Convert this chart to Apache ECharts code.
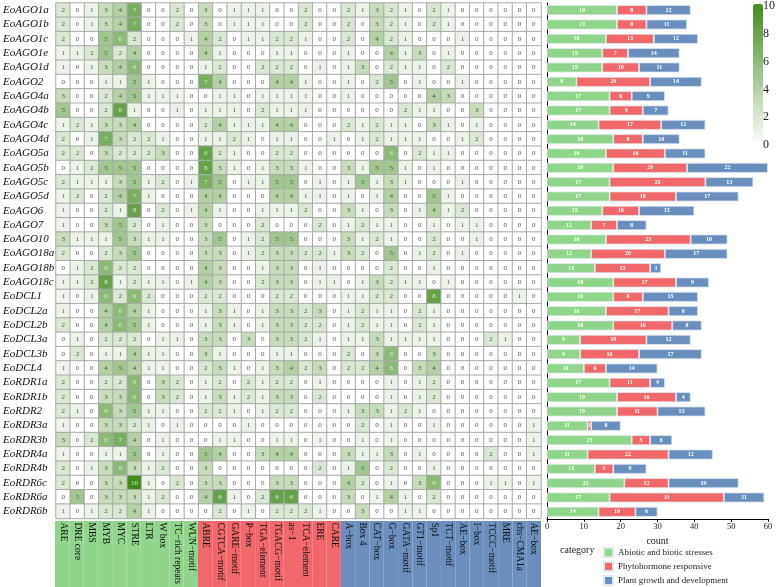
<!DOCTYPE html>
<html><head><meta charset="utf-8">
<script src="https://cdn.jsdelivr.net/npm/echarts@6/dist/echarts.min.js"></script>
<style>html,body{margin:0;padding:0;background:#fff}#c{width:778px;height:587px}</style>
</head><body><div id="c"></div><script>
const genes = ['EoAGO1a','EoAGO1b','EoAGO1c','EoAGO1e','EoAGO1d','EoAGO2','EoAGO4a','EoAGO4b','EoAGO4c','EoAGO4d','EoAGO5a','EoAGO5b','EoAGO5c','EoAGO5d','EoAGO6','EoAGO7','EoAGO10','EoAGO18a','EoAGO18b','EoAGO18c','EoDCL1','EoDCL2a','EoDCL2b','EoDCL3a','EoDCL3b','EoDCL4','EoRDR1a','EoRDR1b','EoRDR2','EoRDR3a','EoRDR3b','EoRDR4a','EoRDR4b','EoRDR6c','EoRDR6a','EoRDR6b'];
const motifs = ['ARE','DRE core','MBS','MYB','MYC','STRE','LTR','W box','TC\u2212rich repeats','WUN\u2212motif',
  'ABRE','CGTCA\u2212motif','GARE\u2212motif','P\u2212box','TGA\u2212element','TGACG\u2212motif','as\u22121','TCA\u2212element','ERE','CARE',
  'A\u2212box','Box 4','CAT\u2212box','G\u2212box','GATA\u2212motif','GT1\u2212motif','Sp1','TCT\u2212motif','AE\u2212box','I\u2212box','TCCC\u2212motif','MRE','chs\u2212CMA1a','AE\u2212box'];
const motifGroup = [0,0,0,0,0,0,0,0,0,0, 1,1,1,1,1,1,1,1,1,1, 2,2,2,2,2,2,2,2,2,2,2,2,2,2];
const categoryNames = ['Abiotic and biotic stresses','Phytohormone responsive','Plant growth and development'];
const categoryColors = ['#8fd68b','#f0686a','#6a8fbf'];
const motifCounts = [
 [2,0,1,3,4,7,0,0,2,0, 3,0,1,1,1,0,0,2,0,0, 2,1,3,2,1,0,2,1,0,0,0,0,0,0],
 [2,0,1,3,4,7,0,0,2,0, 3,0,1,1,1,0,0,2,0,0, 2,0,3,2,1,0,2,1,0,0,0,0,0,0],
 [2,0,0,5,6,2,0,0,0,1, 4,2,0,1,1,2,2,1,0,0, 2,0,4,2,1,0,0,0,1,0,0,0,0,0],
 [1,1,2,5,2,4,0,0,0,0, 4,1,0,0,0,1,1,0,0,0, 1,0,0,4,1,3,0,1,0,0,0,0,0,0],
 [1,0,1,3,4,6,0,0,0,0, 1,2,0,0,2,2,2,0,1,0, 1,3,0,2,1,1,0,2,0,0,0,0,0,0],
 [0,0,0,1,1,5,1,0,0,0, 7,4,0,0,0,4,4,1,0,0, 1,0,2,5,0,1,0,0,1,0,0,0,0,0],
 [3,0,0,2,4,5,1,1,1,0, 0,1,1,0,1,1,1,1,0,0, 1,0,0,0,0,0,4,3,0,0,0,0,0,0],
 [5,0,0,2,8,1,0,0,1,0, 1,1,1,0,2,1,1,1,0,0, 0,0,0,0,2,1,1,0,0,3,0,0,0,0],
 [1,2,1,3,3,4,0,0,0,0, 2,4,1,1,1,4,4,0,0,0, 2,1,2,1,1,0,3,1,0,1,0,0,0,0],
 [2,0,1,7,3,2,2,1,0,0, 1,1,2,1,0,1,1,0,0,1, 0,1,2,1,1,1,0,0,1,2,0,0,0,0],
 [2,2,0,3,2,2,2,3,0,0, 8,2,1,0,0,2,2,0,0,0, 0,0,0,6,0,2,1,1,0,0,0,0,0,0],
 [0,1,2,5,5,5,0,0,0,0, 8,3,1,0,1,3,3,1,0,0, 3,1,5,5,1,0,1,0,0,0,0,0,0,0],
 [2,1,1,1,3,5,1,2,0,1, 7,5,0,1,1,5,5,0,1,0, 1,5,1,3,1,0,0,0,1,0,0,0,0,0],
 [1,2,0,2,4,7,1,0,0,0, 4,4,0,0,0,4,4,1,1,0, 1,0,1,4,0,0,5,1,0,0,0,0,0,0],
 [1,0,0,2,1,8,0,2,0,1, 4,1,0,0,1,1,1,2,0,0, 3,1,0,3,0,1,4,1,2,0,0,0,0,0],
 [1,0,0,3,5,2,0,1,0,0, 3,0,0,0,2,0,0,0,2,0, 1,2,1,1,0,0,1,0,1,1,0,0,0,0],
 [3,1,1,1,5,3,1,1,0,0, 3,5,0,1,2,5,5,0,0,0, 3,1,2,1,0,0,2,0,0,1,0,0,0,0],
 [2,0,0,2,3,5,0,0,0,0, 3,3,0,1,2,3,3,2,2,1, 3,2,0,5,0,1,2,0,1,0,0,0,0,0],
 [0,1,2,6,2,2,0,0,0,0, 4,3,0,0,1,3,3,0,1,0, 0,0,0,2,0,0,1,0,0,0,0,0,0,0],
 [1,1,2,8,1,2,1,1,0,1, 4,3,0,0,2,3,3,0,1,1, 0,1,3,2,1,1,0,1,0,0,0,0,0,0],
 [1,0,1,6,2,6,2,0,0,0, 2,2,0,0,0,2,2,0,0,0, 1,1,2,2,0,0,8,0,0,0,0,0,1,0],
 [1,0,0,4,6,4,1,0,0,0, 1,3,1,0,1,3,3,2,3,0, 1,2,1,1,0,2,1,0,0,0,0,0,0,0],
 [2,0,0,4,6,5,1,0,0,0, 1,3,1,0,1,3,3,2,2,0, 1,2,1,1,0,2,1,0,0,0,0,0,0,0],
 [0,1,0,2,2,2,0,1,1,0, 3,3,0,3,0,3,3,2,1,0, 1,1,3,1,1,1,1,0,0,0,2,1,0,0],
 [0,2,0,1,1,4,1,1,0,0, 3,1,0,0,0,1,1,0,0,0, 2,0,3,6,0,0,3,0,0,0,0,0,0,0],
 [1,0,0,4,5,4,1,1,0,0, 2,3,1,0,1,3,4,2,3,0, 2,2,4,6,0,3,4,0,0,0,0,0,0,0],
 [2,0,0,2,2,6,0,3,2,0, 1,2,0,2,1,2,2,0,1,0, 0,0,0,1,0,1,2,0,0,0,0,0,0,0],
 [2,0,0,3,3,6,0,3,2,0, 1,3,1,2,1,3,3,0,2,0, 0,0,0,1,0,1,2,0,0,0,0,0,0,0],
 [2,1,0,6,3,5,1,1,0,0, 2,2,1,0,1,2,2,0,0,0, 1,3,3,1,2,1,0,0,0,0,0,0,0,0],
 [1,0,0,3,3,2,1,0,1,0, 0,0,0,1,0,0,0,0,0,0, 0,2,0,1,0,0,1,0,0,0,0,0,0,1],
 [3,0,2,6,7,4,0,1,0,0, 0,1,1,0,0,1,1,0,1,0, 0,1,0,1,0,0,0,0,0,0,0,0,0,1],
 [1,0,0,1,1,5,0,1,0,0, 5,4,0,0,3,4,4,0,0,0, 3,1,1,3,0,1,0,0,0,0,2,0,0,1],
 [2,0,1,3,6,3,1,2,0,0, 3,0,0,0,0,0,0,0,2,0, 1,5,0,2,0,0,1,0,0,0,0,0,0,0],
 [2,0,0,3,3,10,1,0,2,0, 3,3,0,0,0,3,3,0,0,0, 4,2,0,1,0,3,6,0,0,0,1,1,0,1],
 [0,5,0,3,3,3,1,2,0,0, 4,8,1,0,2,8,8,0,0,0, 3,0,1,4,1,0,2,0,0,0,0,0,0,0],
 [1,0,1,2,2,4,1,0,0,0, 0,2,0,1,0,2,2,2,1,0, 0,3,0,0,1,1,0,0,0,0,0,0,0,0]
];
const abioticCount = [19,19,16,15,15,8,17,17,14,18,16,18,17,17,15,12,16,12,13,18,18,16,18,9,9,10,17,19,19,11,23,11,13,21,17,14];
const phytoCount   = [8,8,13,7,10,20,6,9,17,8,16,20,26,18,10,7,23,20,15,17,8,17,16,18,16,6,11,16,11,1,5,22,5,12,31,10];
const growthCount  = [12,11,12,14,11,14,9,7,12,10,11,22,13,17,15,8,10,17,3,9,15,8,8,12,17,14,4,4,13,8,6,12,9,19,11,6];
const colorbarTicks = [0,2,4,6,8,10];

const FONT = 'Liberation Serif';
const hmData = [];
motifCounts.forEach((row, r) => row.forEach((v, c) => {
  hmData.push({value: [c, r, v], label: {color: v >= 6 ? '#d4ebc9' : '#555'}});
}));

const barSeries = [abioticCount, phytoCount, growthCount].map((arr, i) => ({
  name: categoryNames[i], type: 'bar', stack: 'cnt', xAxisIndex: 2, yAxisIndex: 2,
  data: arr, barWidth: 10,
  itemStyle: {color: categoryColors[i], borderColor: '#dfe7f0', borderWidth: 0.8},
  label: {show: true, position: 'inside', color: '#fff', fontSize: 6, fontWeight: 'bold', fontFamily: FONT},
  emphasis: {disabled: true}
}));

const chart = echarts.init(document.getElementById('c'));
chart.setOption({
  animation: false,
  textStyle: {fontFamily: FONT},
  title: {text: 'category', left: 560, top: 545, padding: 0,
    textStyle: {fontSize: 10, fontWeight: 'normal', color: '#222', fontFamily: FONT}},
  legend: {orient: 'vertical', left: 603, top: 547, height: 60, padding: 0, itemWidth: 9, itemHeight: 9, itemGap: 3,
    icon: 'rect', data: categoryNames, textStyle: {fontSize: 9, color: '#222', fontFamily: FONT}},
  grid: [
    {left: 55, top: 3, width: 486, height: 516},
    {left: 55, top: 521, width: 486, height: 66},
    {left: 547, top: 3, width: 221, height: 516},
    {left: 753, top: 4, width: 10, height: 141}
  ],
  xAxis: [
    {type: 'category', data: motifs, gridIndex: 0, position: 'bottom', z: 10,
      axisLine: {show: false}, axisTick: {show: false}, splitLine: {show: false},
      axisLabel: {rotate: -90, margin: 4, interval: 0, fontSize: 9.5, color: '#111', fontFamily: FONT}},
    {type: 'category', data: motifs, gridIndex: 1, show: false},
    {type: 'value', gridIndex: 2, min: 0, max: 60, interval: 10,
      axisLine: {show: true, lineStyle: {color: '#000'}},
      axisTick: {show: true, length: 3, lineStyle: {color: '#000'}},
      splitLine: {show: false},
      axisLabel: {fontSize: 8.5, color: '#222', margin: 3, fontFamily: FONT},
      name: 'count', nameLocation: 'middle', nameGap: 15,
      nameTextStyle: {fontSize: 10, color: '#222', fontFamily: FONT}},
    {type: 'value', gridIndex: 3, show: false}
  ],
  yAxis: [
    {type: 'category', data: genes, gridIndex: 0, inverse: true,
      axisLine: {show: false}, axisTick: {show: false}, splitLine: {show: false},
      axisLabel: {fontStyle: 'italic', fontSize: 11, color: '#111', align: 'left', margin: 53, interval: 0, fontFamily: FONT}},
    {type: 'value', gridIndex: 1, min: 0, max: 1, show: false},
    {type: 'category', data: genes, gridIndex: 2, inverse: true,
      axisLine: {show: true, lineStyle: {color: '#000'}}, axisTick: {show: false}, axisLabel: {show: false}},
    {type: 'value', gridIndex: 3, min: colorbarTicks[0], max: colorbarTicks[colorbarTicks.length - 1], interval: 2, position: 'right',
      axisLine: {show: false}, axisTick: {show: false}, splitLine: {show: false},
      axisLabel: {fontSize: 12, color: '#222', margin: 5, fontFamily: FONT}}
  ],
  visualMap: {type: 'continuous', min: 0, max: 10, seriesIndex: 0, left: 753, top: 4,
    itemWidth: 10, itemHeight: 141, padding: 0, calculable: false, hoverLink: false,
    inRange: {color: ['#ffffff', '#418b1d']}},
  series: [
    {type: 'heatmap', xAxisIndex: 0, yAxisIndex: 0, data: hmData,
      itemStyle: {borderColor: '#aaaaaa', borderWidth: 1},
      label: {show: true, fontSize: 7, fontFamily: FONT, formatter: p => p.value[2]},
      emphasis: {disabled: true}},
    {type: 'bar', xAxisIndex: 1, yAxisIndex: 1, silent: true, barCategoryGap: 0,
      data: motifGroup.map(g => ({value: 1, itemStyle: {color: categoryColors[g]}}))},
    ...barSeries
  ]
});
</script></body></html>
